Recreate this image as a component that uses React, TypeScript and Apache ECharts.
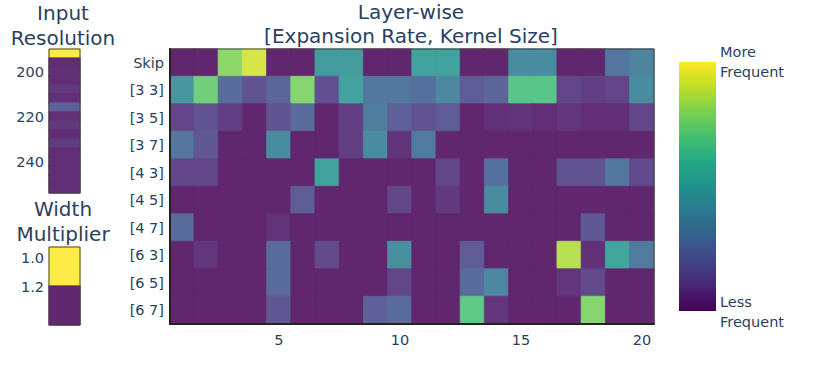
import React, { useEffect, useRef } from 'react';
import * as echarts from 'echarts';

// ---- Data ----
const layerRows = ['Skip', '[3 3]', '[3 5]', '[3 7]', '[4 3]', '[4 5]', '[4 7]', '[6 3]', '[6 5]', '[6 7]'];
const layerCols = ['1', '2', '3', '4', '5', '6', '7', '8', '9', '10', '11', '12', '13', '14', '15', '16', '17', '18', '19', '20'];
const layerTicks = ['5', '10', '15', '20'];

const skipRow = [0, 0, 0.8, 0.93, 0, 0, 0.47, 0.47, 0, 0, 0.5, 0.5, 0, 0, 0.4, 0.4, 0, 0, 0.3, 0.36];
const k33Row = [0.45, 0.74, 0.25, 0.15, 0.22, 0.78, 0.14, 0.5, 0.3, 0.3, 0.27, 0.38, 0.18, 0.22, 0.68, 0.68, 0.1, 0.08, 0.1, 0.4];
const k35Row = [0.1, 0.15, 0.08, 0, 0.15, 0.25, 0, 0.08, 0.33, 0.2, 0.15, 0.18, 0, 0.03, 0.04, 0.02, 0.05, 0.02, 0.02, 0.1];
const k37Row = [0.3, 0.17, 0, 0, 0.4, 0, 0, 0.08, 0.4, 0.04, 0.32, 0, 0, 0, 0, 0, 0, 0, 0, 0];
const k43Row = [0.1, 0.1, 0, 0, 0, 0, 0.5, 0, 0, 0, 0, 0.1, 0, 0.27, 0, 0, 0.15, 0.15, 0.3, 0.12];
const k45Row = [0, 0, 0, 0, 0, 0.18, 0, 0, 0, 0.1, 0, 0.06, 0, 0.4, 0, 0, 0, 0, 0, 0];
const k47Row = [0.25, 0, 0, 0, 0.04, 0, 0, 0, 0, 0, 0, 0, 0, 0, 0, 0, 0, 0.17, 0, 0];
const k63Row = [0, 0.05, 0, 0, 0.25, 0, 0.12, 0, 0, 0.42, 0, 0, 0.18, 0, 0, 0, 0.87, 0.03, 0.52, 0.32];
const k65Row = [0, 0, 0, 0, 0.25, 0, 0, 0, 0, 0.1, 0, 0, 0.25, 0.38, 0, 0, 0.05, 0.12, 0, 0];
const k67Row = [0, 0, 0, 0, 0.17, 0, 0, 0, 0.2, 0.25, 0, 0, 0.7, 0.05, 0, 0, 0, 0.78, 0, 0];
const layerValues = [skipRow, k33Row, k35Row, k37Row, k43Row, k45Row, k47Row, k63Row, k65Row, k67Row];

const resolutionRows = ['192', '196', '200', '204', '208', '212', '216', '220', '224', '228', '232', '236', '240', '244', '248', '252'];
const resolutionValues = [1, 0.02, 0.03, 0.02, 0.06, 0.03, 0.2, 0.03, 0.06, 0.02, 0.07, 0.02, 0.02, 0.02, 0.02, 0.02];
const resolutionTicks = ['200', '220', '240'];

const widthRows = ['1.0', '1.2'];
const widthValues = [1, 0];
const widthTicks = [1.0, 1.2];

const viridis = ['#440154', '#482475', '#414487', '#355f8d', '#2a788e', '#21918c', '#22a884', '#44bf70', '#7ad151', '#bddf26', '#fde725'];

const TEXT = '#2a3f5f';
const FONT = '"DejaVu Sans", Verdana, sans-serif';
const CELL_OPACITY = 0.85;

function blend(hex: string, a: number) {
  const n = parseInt(hex.slice(1), 16);
  const r = (n >> 16) & 255, g = (n >> 8) & 255, b = n & 255;
  const m = (c: number) => Math.round(c * a + 255 * (1 - a));
  return `rgb(${m(r)},${m(g)},${m(b)})`;
}

export default function App() {
  const ref = useRef<HTMLDivElement>(null);
  useEffect(() => {
    document.body.style.margin = '0';
    const chart = echarts.init(ref.current!, undefined, { renderer: 'svg' });

    const cellColors = viridis.map((c) => blend(c, CELL_OPACITY));
    const item = (x: number, y: number, v: number) => ({
      value: [x, y, v],
      itemStyle: { borderColor: echarts.color.lerp(v, cellColors), borderWidth: 0.7 },
    });

    const mainData: any[] = [];
    layerValues.forEach((row, r) => row.forEach((v, c) => mainData.push(item(c, r, v))));
    const resData = resolutionValues.map((v, i) => item(0, i, v));
    const widthData = widthValues.map((v, i) => item(0, i, v));

    const labelStyle = { color: TEXT, fontFamily: FONT, fontSize: 14.5 };
    const hiddenX = (gi: number) => ({
      type: 'category', gridIndex: gi, data: ['0'],
      axisLine: { show: false }, axisTick: { show: false }, axisLabel: { show: false }, splitLine: { show: false },
    });

    const heat = (xi: number, yi: number, data: any[]) => ({
      type: 'heatmap', xAxisIndex: xi, yAxisIndex: yi, data,
      emphasis: { disabled: true }, silent: true, z: 1,
    });

    const n = viridis.length;
    const gradStops = viridis.map((_, i) => ({ offset: i / (n - 1), color: viridis[n - 1 - i] }));

    chart.setOption({
      animation: false,
      textStyle: { fontFamily: FONT },
      grid: [
        { left: 49, top: 49, width: 31, height: 144, show: true, borderColor: '#444', borderWidth: 1, z: 3 },
        { left: 49, top: 247, width: 31, height: 78, show: true, borderColor: '#444', borderWidth: 1, z: 3 },
        { left: 170, top: 49, width: 484, height: 275, show: true, borderColor: '#444', borderWidth: 1, z: 3 },
      ],
      xAxis: [
        hiddenX(0),
        hiddenX(1),
        {
          type: 'category', gridIndex: 2, data: layerCols, z: 4,
          axisLine: { show: true, lineStyle: { color: '#222', width: 2 } },
          axisTick: { show: false },
          axisLabel: { ...labelStyle, margin: 8, interval: (i: number, v: string) => layerTicks.includes(v) },
          splitLine: { show: false },
        },
      ],
      yAxis: [
        {
          type: 'category', gridIndex: 0, data: resolutionRows, inverse: true, position: 'left',
          axisLine: { show: false }, axisTick: { show: false },
          axisLabel: { ...labelStyle, margin: 5, interval: (i: number, v: string) => resolutionTicks.includes(v) },
        },
        {
          type: 'category', gridIndex: 1, data: widthRows, inverse: true, position: 'left',
          axisLine: { show: false }, axisTick: { show: false }, axisLabel: { show: false },
        },
        {
          type: 'category', gridIndex: 2, data: layerRows, inverse: true, position: 'left', z: 4,
          axisLine: { show: true, lineStyle: { color: '#222', width: 2 } },
          axisTick: { show: false },
          axisLabel: { ...labelStyle, margin: 6 },
        },
        {
          type: 'value', gridIndex: 1, min: 0.924, max: 1.462, inverse: true, position: 'left',
          axisLine: { show: false }, axisTick: { show: false }, splitLine: { show: false },
          axisLabel: { ...labelStyle, margin: 5, customValues: widthTicks, formatter: (v: number) => v.toFixed(1) },
        },
      ],
      visualMap: {
        type: 'continuous', min: 0, max: 1, seriesIndex: [0, 1, 2], show: false,
        inRange: { color: cellColors },
      },
      graphic: [
        {
          type: 'rect', left: 679, top: 62, silent: true,
          shape: { x: 0, y: 0, width: 37, height: 249 },
          style: { fill: new echarts.graphic.LinearGradient(0, 0, 0, 1, gradStops) },
        },
        { type: 'text', x: 63, y: 0, style: { text: 'Input\nResolution', x: 0, y: 0, align: 'center', verticalAlign: 'top', font: `20px ${FONT}`, lineHeight: 25, fill: TEXT } },
        { type: 'text', x: 63, y: 196, style: { text: 'Width\nMultiplier', x: 0, y: 0, align: 'center', verticalAlign: 'top', font: `20px ${FONT}`, lineHeight: 25, fill: TEXT } },
        { type: 'text', x: 411, y: 0, style: { text: 'Layer-wise\n[Expansion Rate, Kernel Size]', x: 0, y: 0, align: 'center', verticalAlign: 'top', font: `20px ${FONT}`, lineHeight: 24, fill: TEXT } },
        { type: 'text', x: 720, y: 42, style: { text: 'More\nFrequent', x: 0, y: 0, align: 'left', verticalAlign: 'top', font: `14.5px ${FONT}`, lineHeight: 20, fill: TEXT } },
        { type: 'text', x: 720, y: 292, style: { text: 'Less\nFrequent', x: 0, y: 0, align: 'left', verticalAlign: 'top', font: `14.5px ${FONT}`, lineHeight: 20, fill: TEXT } },
      ],
      series: [heat(0, 0, resData), heat(1, 1, widthData), heat(2, 2, mainData)],
    });
    return () => chart.dispose();
  }, []);
  return <div ref={ref} style={{ width: 814, height: 380 }} />;
}
